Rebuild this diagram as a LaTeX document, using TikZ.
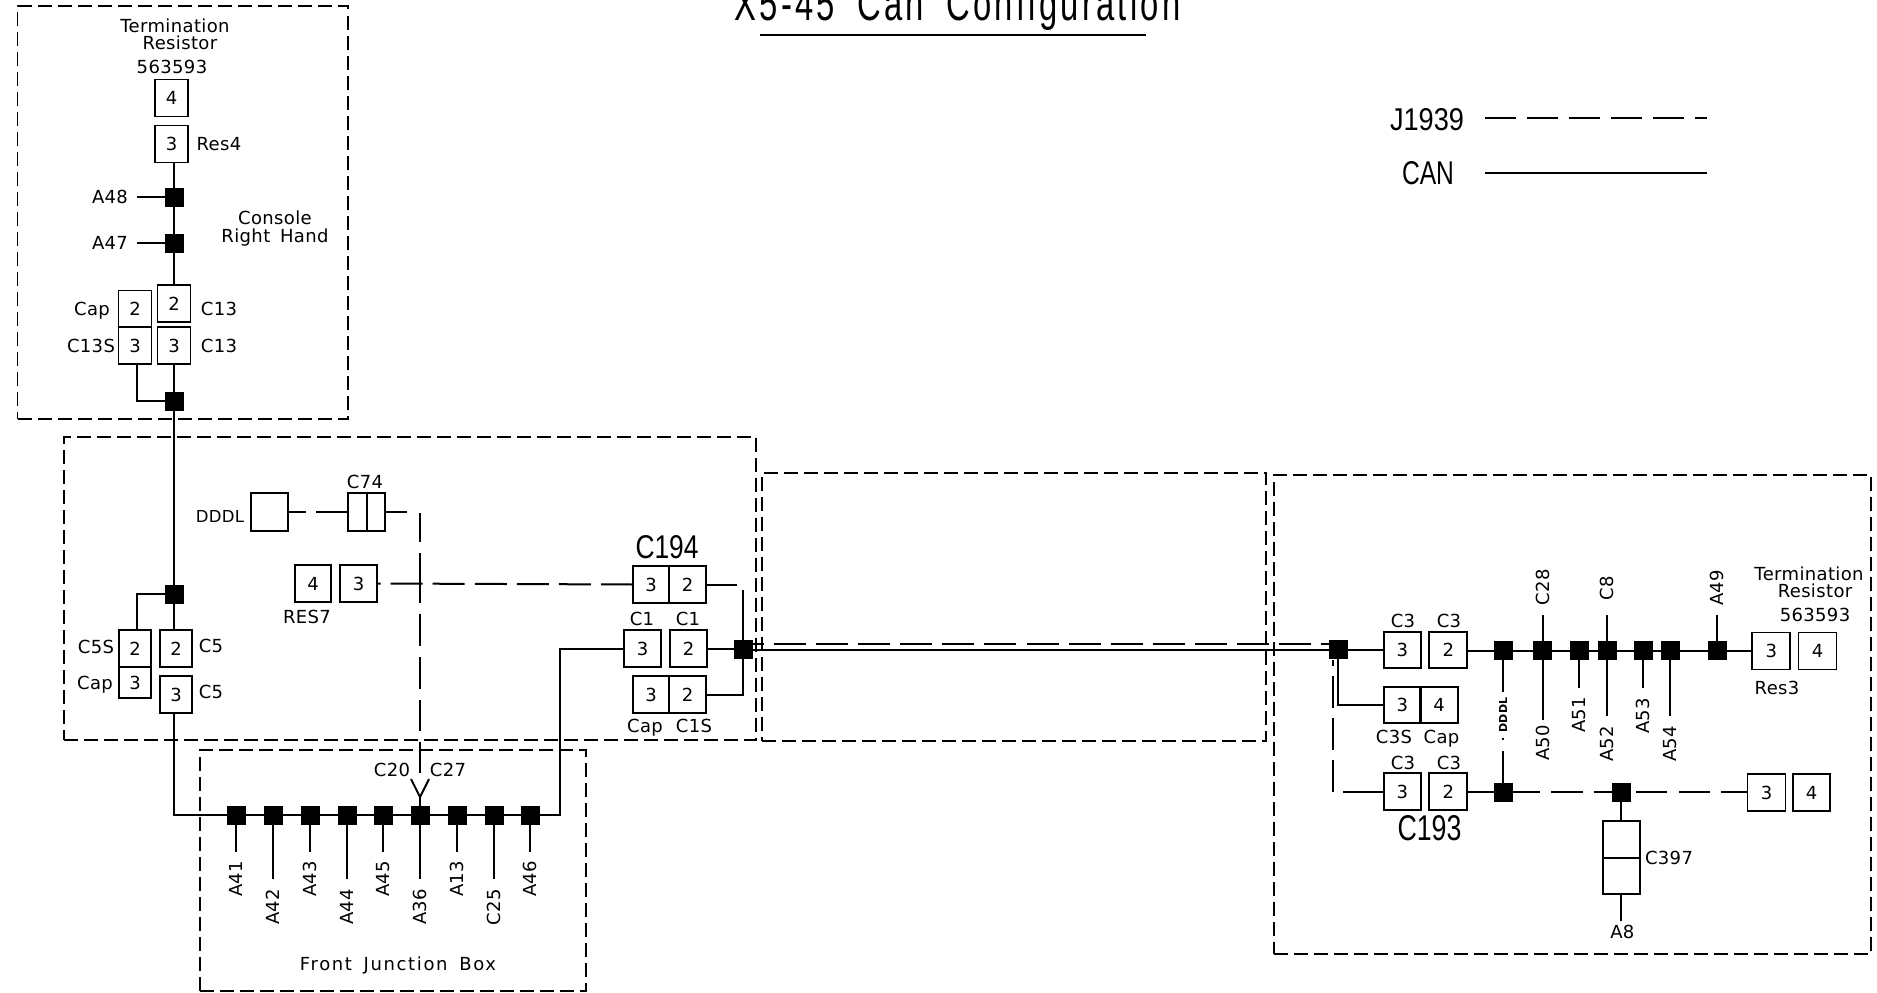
\documentclass[tikz,border=0pt]{standalone}
\usepackage{fontspec}
\usepackage{graphicx}
\setmainfont[LetterSpace=2,WordSpace=1.6]{DejaVu Sans}
\newfontfamily\thinfont{Liberation Sans}
\newfontfamily\widefont[LetterSpace=9,WordSpace=1.6]{DejaVu Sans}
\newfontfamily\titlefont[LetterSpace=10,WordSpace=1.8]{Liberation Sans}
\newcommand{\lab}{\fontsize{18}{18}\selectfont}
\newcommand{\fitto}[3]{\resizebox{#1pt}{#2pt}{\thinfont #3}}
\tikzset{
  wire/.style={line width=2pt,line cap=butt},
  can/.style={wire,dash pattern=on 32pt off 10.07pt},
  panel/.style 2 args={draw,line width=1.9pt,dash pattern=on 14pt off 6pt,inner sep=0,outer sep=0,minimum width=#1pt,minimum height=#2pt},
  box/.style 2 args={draw,line width=1.9pt,inner sep=0,outer sep=0,minimum width=#1pt,minimum height=#2pt,font=\lab},
  pin/.style={box={33}{37}},
  jn/.style={fill=black,inner sep=0,outer sep=0,minimum size=19pt},
  fittxt/.style={inner sep=0,outer sep=0,font=\lab},
  txt/.style={fittxt,text height=13pt,text depth=0pt},
  vtxt/.style={txt,rotate=90},
}
\begin{document}
\begin{tikzpicture}[x=1pt,y=-1pt]
\useasboundingbox (0,0) rectangle (1877,993);
% panels
\node[panel={330.5}{413}] (p1) at (182.75,212.5) {};
\node[panel={692}{303}] (p2) at (410,588.5) {};
\node[panel={386}{241}] (p3) at (393,870.5) {};
\node[panel={504}{268}] (p4) at (1014,607) {};
\node[panel={597}{479}] (p5) at (1572.5,714.5) {};
% title and legend
\node[fittxt,anchor=base] (title) at (957.5,20) {\resizebox{446pt}{35pt}{\titlefont X5-45 Can Configuration}};
\coordinate (tl) at (760,35); \coordinate (tr) at (1146,35);
\draw[wire] (tl) -- (tr);
\node[fittxt] (lj) at (1427,120) {\fitto{74}{22}{J1939}};
\node[fittxt] (lc) at (1428,173) {\fitto{52}{23}{CAN}};
\coordinate (j1) at (1485,118); \coordinate (j2) at (1707,118);
\coordinate (c1) at (1485,173); \coordinate (c2) at (1707,173);
\draw[wire,dash pattern=on 31pt off 11pt] (j1) -- (j2);
\draw[wire] (c1) -- (c2);
% --- top panel
\node[txt] (t1) at (175,26) {Termination};
\node[txt] (t2) at (180,43) {Resistor};
\node[txt] (t3) at (172,67) {563593};
\node[pin] (r4) at (171.5,98) {4};
\node[pin] (r3) at (171.5,144) {3};
\node[txt] (tres4) at (219,144) {Res4};
\node[jn] (j48) at (174,197) {};
\node[jn] (j47) at (174,243) {};
\node[txt] (t48) at (110,197) {A48};
\node[txt] (t47) at (110,243) {A47};
\coordinate (e48) at (137,197); \coordinate (e47) at (137,243);
\node[txt] (tc1) at (275,218) {Console};
\node[txt] (tc2) at (275,236) {Right Hand};
\node[pin] (c13s2) at (135,309) {2};
\node[pin] (c13s3) at (135,345.5) {3};
\node[pin] (c132) at (174,303.5) {2};
\node[pin] (c133) at (174,345.5) {3};
\node[txt] (tcap1) at (92,309) {Cap};
\node[txt] (tc13s) at (91,346) {C13S};
\node[txt] (tc13a) at (219,309) {C13};
\node[txt] (tc13b) at (219,346) {C13};
\node[jn] (j13) at (174,401) {};
\coordinate (c13c) at (137,401);
\draw[wire] (r3.south -| j48) -- (j48);
\draw[wire] (j48) -- (j47);
\draw[wire] (j47) -- (c132);
\draw[wire] (e48) -- (j48);
\draw[wire] (e47) -- (j47);
\draw[wire] (c133) -- (j13);
\draw[wire] (c13s3.south -| c13c) -- (c13c) -- (j13);
% --- second panel
\node[jn] (jc5) at (174,594) {};
\node[box={32}{37}] (c5s2) at (135,648.5) {2};
\node[box={32}{31}] (c5s3) at (135,682.5) {3};
\node[box={32}{37}] (c52) at (176,648.5) {2};
\node[box={32}{37}] (c53) at (176,694.5) {3};
\node[txt] (tc5s) at (96,647) {C5S};
\node[txt] (tcap2) at (95,683) {Cap};
\node[txt] (tc5a) at (211,646) {C5};
\node[txt] (tc5b) at (211,692) {C5};
\coordinate (c5c) at (137,594);
\draw[wire] (jc5.south) -- (jc5.south |- c52.north);
\draw[wire] (jc5) -- (c5c) -- (c5c |- c5s2.north);
\node[txt,font=\fontsize{16.5}{18}\selectfont] (tdddl) at (220,516) {DDDL};
\node[box={37}{38}] (dddl) at (269.5,512) {};
\node[box={19}{38}] (c74a) at (357.5,512) {};
\node[box={18}{38}] (c74b) at (376,512) {};
\node[txt] (tc74) at (365,482) {C74};
\node[box={36}{37}] (res4) at (313,583.5) {4};
\node[box={37}{37}] (res3) at (358.5,583.5) {3};
\node[txt] (tres7) at (307,617) {RES7};
\node[box={36}{37}] (c194a) at (651,584.5) {3};
\node[box={37}{37}] (c194b) at (687.5,584.5) {2};
\node[fittxt] (tc194) at (667,547) {\fitto{63}{23}{C194}};
\node[box={37}{37}] (c1a) at (642.5,648.5) {3};
\node[box={37}{37}] (c1b) at (688.5,648.5) {2};
\node[txt] (tc1a) at (642,619) {C1};
\node[txt] (tc1b) at (688,619) {C1};
\node[box={36}{37}] (c1sa) at (651,694.5) {3};
\node[box={37}{37}] (c1sb) at (687.5,694.5) {2};
\node[txt] (tcap3) at (645,726) {Cap};
\node[txt] (tc1s) at (694,726) {C1S};
\node[jn] (jc1) at (743,649.5) {};
\coordinate (c74e) at (407,512);
\coordinate (cc) at (420,513);
\coordinate (e27) at (420,773);
\coordinate (c194e) at (737,584.5);
\coordinate (c194v) at (743,590);
\coordinate (c1sc) at (743,694.5);
\draw[can] (c74a.west) -- (dddl.east);
\draw[wire] (c74b.east) -- (c74e);
\draw[wire,dash pattern=on 29pt off 11pt on 50pt off 11pt on 32pt off 11pt on 32pt off 11pt on 31pt off 11pt on 32pt off 100pt] (cc) -- (e27);
\draw[can] (c194a.west) -- (res3.east);
\draw[wire] (c194b.east) -- (c194e);
\draw[wire] (c194v) -- (jc1);
\draw[wire] (c1b.east) -- (c1b.east -| jc1.west);
\draw[wire] (c1sb.east) -- (c1sc) -- (jc1);
% --- bus
\foreach \n/\x/\e/\l/\t in {a/236/852/879/A41,b/273/879/907/A42,c/310/852/879/A43,d/347/879/907/A44,e/383/852/879/A45,f/420/879/907/A36,g/457/852/879/A13,h/494/879/907/C25,i/530/852/879/A46}{
  \node[jn] (b\n) at (\x,815) {};
  \coordinate (be\n) at (\x,\e);
  \node[vtxt] (bl\n) at (\x,\l) {\t};
  \draw[wire] (b\n) -- (be\n);
}
\coordinate (busl) at (174,815);
\coordinate (busr) at (560,815);
\coordinate (busu) at (560,649);
\draw[wire] (j13) -- (jc5);
\draw[wire] (c53.south -| jc5) -- (busl) -- (ba);
\foreach \p/\q in {a/b,b/c,c/d,d/e,e/f,f/g,g/h,h/i}{\draw[wire] (b\p) -- (b\q);}
\draw[wire] (bi) -- (busr) -- (busu) -- (c1a.west |- busu);
\node[txt] (t20) at (392,770) {C20};
\node[txt] (t27) at (448,770) {C27};
\node[txt,font=\lab\widefont] (tfjb) at (398,964) {Front Junction Box};
\coordinate (fk) at (420,797); \coordinate (fl) at (411,779); \coordinate (fr) at (429,779);
\draw[wire] (fl) -- (fk) -- (fr);
\draw[wire] (fk) -- (bf);
% --- right panel
\node[jn] (jr) at (1338,649.5) {};
\node[box={37}{36}] (c3a) at (1402.3,650) {3};
\node[box={38}{36}] (c3b) at (1448.4,650) {2};
\node[txt] (tc3a) at (1403,621) {C3};
\node[txt] (tc3b) at (1449,621) {C3};
\foreach \n/\x in {d/1503.4,e/1542.5,f/1579,g/1607,h/1643,i/1670,k/1717}{
  \node[jn] (t\n) at (\x,650.5) {};
}
\node[box={38}{37}] (r3r) at (1771.4,651) {3};
\node[box={38}{37}] (r4r) at (1817.5,651) {4};
\node[txt] (tres3) at (1777,688) {Res3};
\node[txt] (tt1) at (1809,574) {Termination};
\node[txt] (tt2) at (1815,591) {Resistor};
\node[txt] (tt3) at (1815,615) {563593};
\node[box={37}{36}] (c3sa) at (1402.3,705) {3};
\node[box={38}{36}] (c3sb) at (1439,705) {4};
\node[txt] (tc3s) at (1394,737) {C3S};
\node[txt] (tcap4) at (1441.5,737) {Cap};
\coordinate (c3sc) at (1338.4,705);
\node[box={37}{37}] (c3c) at (1402.3,791.5) {3};
\node[box={38}{37}] (c3d) at (1448.4,791.5) {2};
\node[txt] (tc3c) at (1403,763) {C3};
\node[txt] (tc3d) at (1449,763) {C3};
\node[fittxt] (tc193) at (1429.5,828) {\fitto{64}{25}{C193}};
\node[jn] (jd) at (1503.4,792) {};
\node[jn] (jf) at (1621.3,792) {};
\node[box={38}{37}] (r3b) at (1766.5,792.5) {3};
\node[box={37}{37}] (r4b) at (1811.6,792.5) {4};
\node[box={37}{37}] (c397a) at (1621.3,839.5) {};
\node[box={37}{36}] (c397b) at (1621.3,876) {};
\node[txt] (tc397) at (1669,858) {C397};
\node[txt] (ta8) at (1622.3,932) {A8};
\coordinate (ea8) at (1621.3,921);
% rotated labels of the top row
\coordinate (ue) at (1542.5,615); \coordinate (ug) at (1607,615); \coordinate (uk) at (1717,615);
\node[vtxt] (l28) at (1542.5,587) {C28};
\node[vtxt] (l8) at (1607,588) {C8};
\node[vtxt] (l49) at (1717,588) {A49};
\coordinate (de) at (1542.5,720); \coordinate (df) at (1579,688); \coordinate (dg) at (1607,716);
\coordinate (dh) at (1643,688); \coordinate (di) at (1670,716);
\node[vtxt] (l50) at (1542.5,743) {A50};
\node[vtxt] (l51) at (1579,715) {A51};
\node[vtxt] (l52) at (1607,744) {A52};
\node[vtxt] (l53) at (1643,716) {A53};
\node[vtxt] (l54) at (1670,744) {A54};
\node[fittxt,rotate=90,font=\fontsize{11}{11}\selectfont\bfseries] (ldd) at (1503,715) {DDDL};
\node[fittxt,rotate=90,font=\fontsize{11}{11}\selectfont\bfseries] (ldot) at (1503,739) {.};
\coordinate (dd1) at (1503.4,692); \coordinate (dd2) at (1503.4,751);
\draw[wire] (jc1) -- (jr);
\coordinate (mdl) at (752,643.5); \coordinate (mdr) at (1329,643.5);
\draw[wire,dash pattern=on 32pt off 10.07pt,dash phase=20pt] (mdl) -- (mdr);
\draw[wire] (jr) -- (jr -| c3a.west);
\draw[wire] (c3b.east |- td) -- (td);
\foreach \p/\q in {d/e,e/f,f/g,g/h,h/i,i/k}{\draw[wire] (t\p) -- (t\q);}
\draw[wire] (tk) -- (tk -| r3r.west);
\draw[wire] (ue) -- (te); \draw[wire] (ug) -- (tg); \draw[wire] (uk) -- (tk);
\draw[wire] (te) -- (de); \draw[wire] (tf) -- (df); \draw[wire] (tg) -- (dg);
\draw[wire] (th) -- (dh); \draw[wire] (ti) -- (di);
\draw[wire] (td) -- (dd1); \draw[wire] (dd2) -- (jd);
\draw[wire] (jr.south -| c3sc) -- (c3sc) -- (c3sa.west);
\coordinate (lc3) at (1343.3,792); \coordinate (vb) at (1333,792); \coordinate (vt) at (1333,660);
\draw[can] (vb) -- (vt);
\draw[wire] (lc3) -- (c3c.west |- lc3);
\draw[wire] (c3d.east |- jd) -- (jd);
\draw[wire,dash pattern=on 27pt off 11pt on 32pt off 11pt on 18pt off 100pt] (jd) -- (jf);
\draw[wire,dash pattern=on 31pt off 12pt on 31pt off 11pt on 27pt off 100pt] ([xshift=5pt]jf.east) -- (jf -| r3b.west);
\draw[wire] (jf) -- (c397a);
\draw[wire] (c397b.south) -- (ea8);
\end{tikzpicture}
\end{document}
